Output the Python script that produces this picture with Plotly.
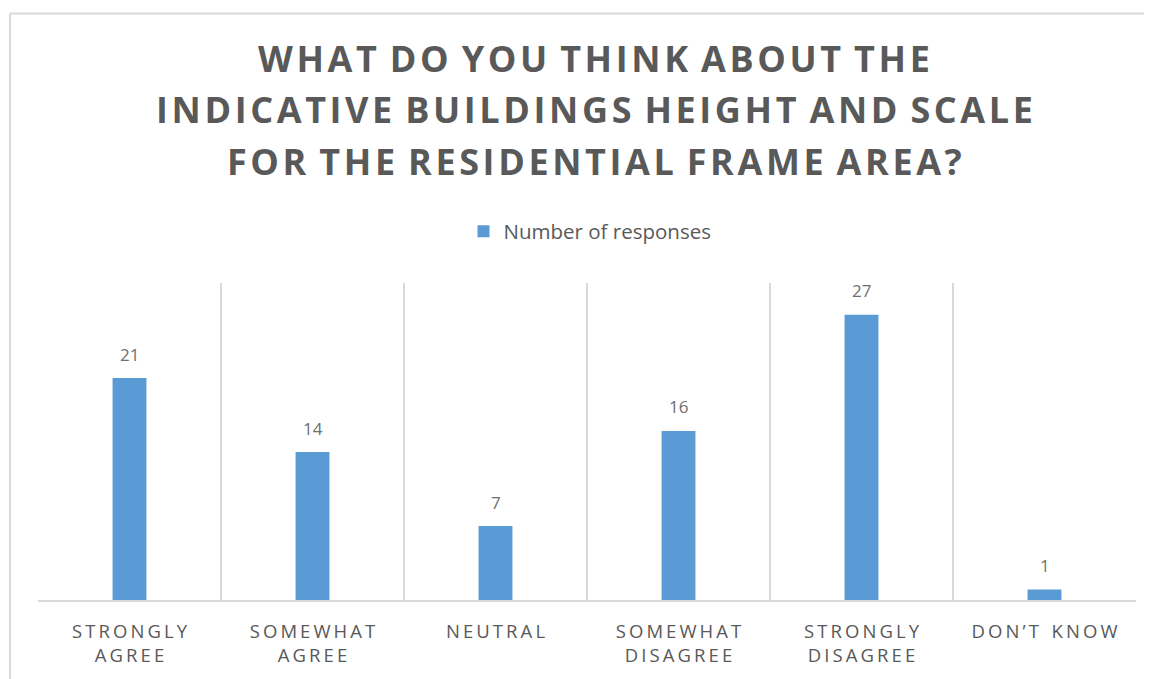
"""Survey response bar chart: building height and scale, residential frame area."""
import plotly.graph_objects as go

BLUE = "#5B9BD5"
GREY_TEXT = "#595959"
GRID = "#D9D9D9"

categories = [
    "Strongly agree",
    "Somewhat agree",
    "Neutral",
    "Somewhat disagree",
    "Strongly disagree",
    "Don’t know",
]
tick_labels = [
    ["STRONGLY", "AGREE"],
    ["SOMEWHAT", "AGREE"],
    ["NEUTRAL"],
    ["SOMEWHAT", "DISAGREE"],
    ["STRONGLY", "DISAGREE"],
    ["DON’T KNOW"],
]
responses = [21, 14, 7, 16, 27, 1]
title_lines = [
    "WHAT DO YOU THINK ABOUT THE",
    "INDICATIVE BUILDINGS HEIGHT AND SCALE",
    "FOR THE RESIDENTIAL FRAME AREA?",
]
series_name = "Number of responses"

# page body has an 8px margin, so the figure is drawn 8px in from the window
OFF = 8
W, H = 1152 - OFF, 679 - OFF
L, T = 38 - OFF, 283 - OFF
R = W - (1136 - OFF)
B = H - (603 - OFF)
PW, PH = W - L - R, H - T - B


def _spaced(text: str, gap: str, word_gap: str) -> str:
    """Fake letter spacing with narrow unicode spaces."""
    return word_gap.join(gap.join(w) for w in text.split(" "))


def _px(x: float) -> float:
    return (x - OFF - L) / PW


def _py(y: float) -> float:
    return (H - B - (y - OFF)) / PH


x_pos = [i + 0.5 for i in range(len(categories))]

fig = go.Figure()
fig.add_trace(go.Bar(
    x=x_pos,
    y=responses,
    width=0.185,
    name=series_name,
    marker=dict(color=BLUE, line=dict(width=0)),
    hovertext=categories,
    showlegend=True,
))

for xv, v in zip(x_pos, responses):
    fig.add_annotation(
        x=xv, y=v, text=str(v), showarrow=False, yshift=24,
        font=dict(family="Open Sans", size=17, color="#6F6F6F"),
    )

for line, yc in zip(title_lines, [56, 108, 160]):
    fig.add_annotation(
        xref="paper", yref="paper", x=_px(594), y=_py(yc),
        text=_spaced(line, "\u200a", " \u200a"), showarrow=False,
        xanchor="center", yanchor="middle",
        font=dict(family="Open Sans", size=36, color=GREY_TEXT, weight="bold"),
    )

# chart border (top and left edges visible in the crop)
fig.add_shape(type="line", xref="paper", yref="paper",
              x0=_px(10), x1=1.2, y0=_py(11), y1=_py(11),
              line=dict(color=GRID, width=2))
fig.add_shape(type="line", xref="paper", yref="paper",
              x0=_px(10), x1=_px(10), y0=_py(11), y1=-0.5,
              line=dict(color=GRID, width=2))

fig.update_layout(
    width=W,
    height=H,
    margin=dict(l=L, r=R, t=T, b=B),
    paper_bgcolor="white",
    plot_bgcolor="white",
    font=dict(family="Open Sans", color=GREY_TEXT),
    showlegend=True,
    legend=dict(
        orientation="h", x=_px(590), xanchor="center", y=_py(231), yanchor="middle",
        font=dict(size=20.5, color=GREY_TEXT), itemwidth=30,
    ),
    xaxis=dict(
        range=[0, len(categories)],
        tickmode="array",
        tickvals=x_pos,
        ticktext=["<br>".join(_spaced(p, "\u2009", "\u2009  ") for p in parts)
                  for parts in tick_labels],
        tickfont=dict(size=18.5, color=GREY_TEXT),
        ticks="",
        ticklabelstandoff=14,
        showgrid=False,
        showline=True,
        linecolor=GRID,
        linewidth=2,
        zeroline=False,
        minor=dict(tickvals=list(range(len(categories) + 1)), showgrid=True,
                   gridcolor=GRID, gridwidth=2, ticks=""),
    ),
    yaxis=dict(
        range=[0, 30],
        showgrid=False,
        showticklabels=False,
        zeroline=False,
        showline=False,
    ),
)

fig.write_html("out.html")
